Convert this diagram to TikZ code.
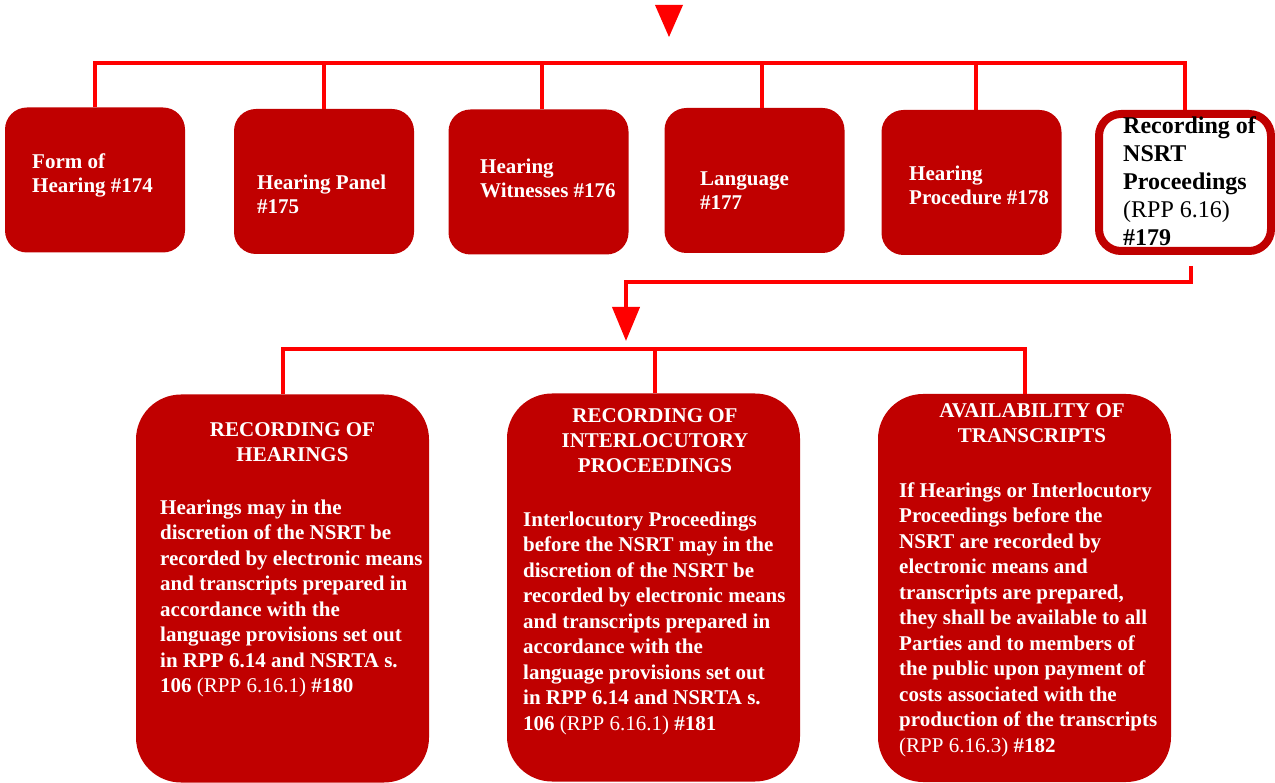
\documentclass[tikz,border=0pt]{standalone}
\usepackage{fontspec}
\setmainfont{Liberation Serif}
\usetikzlibrary{arrows.meta,positioning}
\definecolor{boxred}{RGB}{192,0,0}
\definecolor{linkred}{RGB}{255,0,0}
\begin{document}
\begin{tikzpicture}[x=1pt,y=-1pt,
top node/.style={rounded corners=22pt,fill=boxred,minimum width=180pt,minimum height=145pt,inner sep=0pt},
low node/.style={rounded corners=45pt,fill=boxred,minimum width=293pt,minimum height=388pt,inner sep=0pt},
top text/.style={anchor=north west,inner sep=0pt,align=left,text=white,font={\bfseries\fontsize{21}{24}\selectfont}},
head text/.style={anchor=north,inner sep=0pt,align=center,text=white,font={\bfseries\fontsize{21}{25}\selectfont}},
body text/.style={anchor=north west,inner sep=0pt,align=left,text=white,font={\bfseries\fontsize{21}{25.5}\selectfont}},
link/.style={draw=linkred,line width=4pt}]
\useasboundingbox (0,0) rectangle (1275,783);
%top row
\node[top node] (b174) at (95,180) {};
\node[top node] (b175) at (324,181.5) {};
\node[top node] (b176) at (538.5,182) {};
\node[top node] (b177) at (754.5,180.5) {};
\node[top node] (b178) at (971.5,182.5) {};
\node[top node,fill=white,draw=boxred,line width=8pt,minimum width=172pt,minimum height=137pt] (b179) at (1185,182.5) {};
\node[top text] (t174) at (32,153.5) {Form of\\Hearing \#174};
\node[top text] (t175) at (257,174.5) {Hearing Panel\\\#175};
\node[top text] (t176) at (480,158.5) {Hearing\\Witnesses \#176};
\node[top text] (t177) at (700,172) {Language\\\#177};
\node[top text] (t178) at (909,165.5) {Hearing\\Procedure \#178};
\node[top text,text=black,font={\bfseries\fontsize{24}{28}\selectfont}] (t179) at (1123,116.4) {Recording of\\NSRT\\Proceedings\\{\mdseries (RPP 6.16)}\\\#179};
%bottom row
\node[low node] (b180) at (282.5,588.5) {};
\node[low node] (b181) at (653.5,587.5) {};
\node[low node] (b182) at (1024.5,588) {};
\node[head text] (h180) at (292.5,422.8) {RECORDING OF\\HEARINGS};
\node[head text] (h181) at (655,408.8) {RECORDING OF\\INTERLOCUTORY\\PROCEEDINGS};
\node[head text] (h182) at (1032,403.8) {AVAILABILITY OF\\TRANSCRIPTS};
\node[body text] (t180) at (160,499.5) {Hearings may in the\\discretion of the NSRT be\\recorded by electronic means\\and transcripts prepared in\\accordance with the\\language provisions set out\\in RPP 6.14 and NSRTA s.\\106 {\mdseries (RPP 6.16.1)} \#180};
\node[body text] (t181) at (523,511.5) {Interlocutory Proceedings\\before the NSRT may in the\\discretion of the NSRT be\\recorded by electronic means\\and transcripts prepared in\\accordance with the\\language provisions set out\\in RPP 6.14 and NSRTA s.\\106 {\mdseries (RPP 6.16.1)} \#181};
\node[body text] (t182) at (899,482.5) {If Hearings or Interlocutory\\Proceedings before the\\NSRT are recorded by\\electronic means and\\transcripts are prepared,\\they shall be available to all\\Parties and to members of\\the public upon payment of\\costs associated with the\\production of the transcripts\\{\mdseries (RPP 6.16.3)} \#182};
%connectors
\coordinate (bus) at (669,63);
\coordinate (low bus) at (655,349);
\coordinate (arrow end) at (626,341);
\fill[linkred] (655,5) -- (683,5) -- (669,37) -- cycle;
\draw[link] (b174.north) |- (bus -| b179.north) -- (b179.north);
\draw[link] (b175.north) -- (b175.north |- bus);
\draw[link] ([xshift=3.5pt]b176.north) -- ([xshift=3.5pt]b176.north |- bus);
\draw[link] ([xshift=7.5pt]b177.north) -- ([xshift=7.5pt]b177.north |- bus);
\draw[link] ([xshift=4.5pt]b178.north) -- ([xshift=4.5pt]b178.north |- bus);
\draw[link,-{Triangle[width=27pt,length=34pt]}] ([xshift=6pt,yshift=-11pt]b179.south) -- ++(0,16) -| (arrow end);
\draw[link] (b180.north) |- (low bus -| b182.north) -- (b182.north);
\draw[link] ([xshift=1.5pt]b181.north) -- ([xshift=1.5pt]b181.north |- low bus);
\end{tikzpicture}
\end{document}
